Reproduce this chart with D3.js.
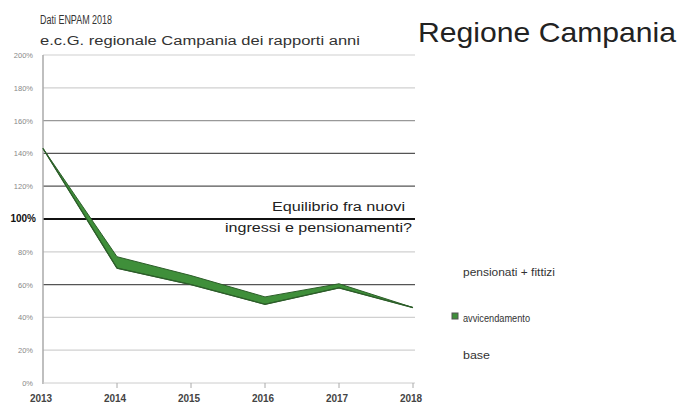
<!DOCTYPE html>
<html><head><meta charset="utf-8">
<script src="https://cdn.jsdelivr.net/npm/d3@7"></script>
<style>body{margin:0;background:#fff;}svg{display:block;font-family:"Liberation Sans",Arial,sans-serif;}</style>
</head><body>
<svg id="c" width="681" height="410"></svg>
<script>
const years = ["2013","2014","2015","2016","2017","2018"];
const baseValues = [143, 70, 60, 48, 58, 46];
const bandValues = [0, 7, 5.5, 4.5, 2.5, 0];
const yTicks = [0,20,40,60,80,100,120,140,160,180,200];
const gridStyles = {0:"none",20:"#d0d0d0",40:"#d0d0d0",60:"#555",80:"#d0d0d0",100:"#111",120:"#555",140:"#555",160:"#999",180:"#d0d0d0",200:"#d0d0d0"};
const legendItems = ["pensionati + fittizi","avvicendamento","base"];

const svg = d3.select("#c");
const x = d3.scalePoint().domain(years).range([43,413]);
const y = d3.scaleLinear().domain([0,200]).range([383,55]);

// gridlines
svg.append("g").selectAll("line").data(yTicks.filter(d=>d>0)).join("line")
  .attr("x1",43).attr("x2",415).attr("y1",d=>y(d)).attr("y2",d=>y(d))
  .attr("stroke",d=>gridStyles[d]).attr("stroke-width",d=>d===100?2:1.2);

// y labels
svg.append("g").selectAll("text").data(yTicks).join("text")
  .attr("x",d=>d===100?36:33).attr("y",d=>y(d)+3).attr("text-anchor","end")
  .attr("font-size",d=>d===100?10:7.5).attr("font-weight",d=>d===100?"bold":"normal")
  .attr("fill",d=>d===100?"#111":"#888").text(d=>d+"%");

// axes
svg.append("line").attr("x1",43).attr("x2",43).attr("y1",55).attr("y2",384).attr("stroke","#aaa").attr("stroke-width",1.5);
svg.append("line").attr("x1",43).attr("x2",415).attr("y1",383).attr("y2",383).attr("stroke","#ccc");
svg.append("g").selectAll("line").data(years.slice(1)).join("line")
  .attr("x1",d=>x(d)).attr("x2",d=>x(d)).attr("y1",383).attr("y2",388).attr("stroke","#aaa");
svg.append("g").selectAll("text").data(years).join("text")
  .attr("x",d=>x(d)-2).attr("y",402).attr("text-anchor","middle").attr("font-size",10)
  .attr("font-weight","bold").attr("fill","#444").text(d=>d);

// band
const rows = years.map((yr,i)=>({yr, lo:baseValues[i], hi:baseValues[i]+bandValues[i]}));
svg.append("path").datum(rows)
  .attr("d", d3.area().x(d=>x(d.yr)).y0(d=>y(d.lo)).y1(d=>y(d.hi)))
  .attr("fill","#3f8f3a").attr("stroke","#2d5e2a").attr("stroke-width",1);
svg.append("path").datum(rows)
  .attr("d", d3.line().x(d=>x(d.yr)).y(d=>y(d.lo)))
  .attr("fill","none").attr("stroke","#2d5e2a").attr("stroke-width",1.3);

// annotation
svg.append("text").attr("x",405).attr("y",211).attr("text-anchor","end").attr("font-size",12).attr("fill","#222")
  .attr("textLength",133).attr("lengthAdjust","spacingAndGlyphs").text("Equilibrio fra nuovi");
svg.append("text").attr("x",412).attr("y",232).attr("text-anchor","end").attr("font-size",12).attr("fill","#222")
  .attr("textLength",187).attr("lengthAdjust","spacingAndGlyphs").text("ingressi e pensionamenti?");

// titles
svg.append("text").attr("x",40).attr("y",24).attr("font-size",12).attr("fill","#333")
  .attr("textLength",72).attr("lengthAdjust","spacingAndGlyphs").text("Dati ENPAM 2018");
svg.append("text").attr("x",40).attr("y",45).attr("font-size",12).attr("fill","#333")
  .attr("textLength",320).attr("lengthAdjust","spacingAndGlyphs").text("e.c.G. regionale Campania dei rapporti anni");
svg.append("text").attr("x",418).attr("y",42).attr("font-size",28).attr("fill","#222")
  .attr("textLength",258).attr("lengthAdjust","spacingAndGlyphs").text("Regione Campania");

// legend
const lg = svg.append("g");
lg.selectAll("text").data(legendItems).join("text")
  .attr("x",463).attr("y",(d,i)=>[276,322,359][i]).attr("font-size",10).attr("fill","#333")
  .attr("textLength",(d,i)=>[92,67,27][i]).attr("lengthAdjust","spacingAndGlyphs").text(d=>d);
lg.append("rect").attr("x",452).attr("y",313).attr("width",6).attr("height",6).attr("fill","#3f8f3a").attr("stroke","#555");
</script>
</body></html>
